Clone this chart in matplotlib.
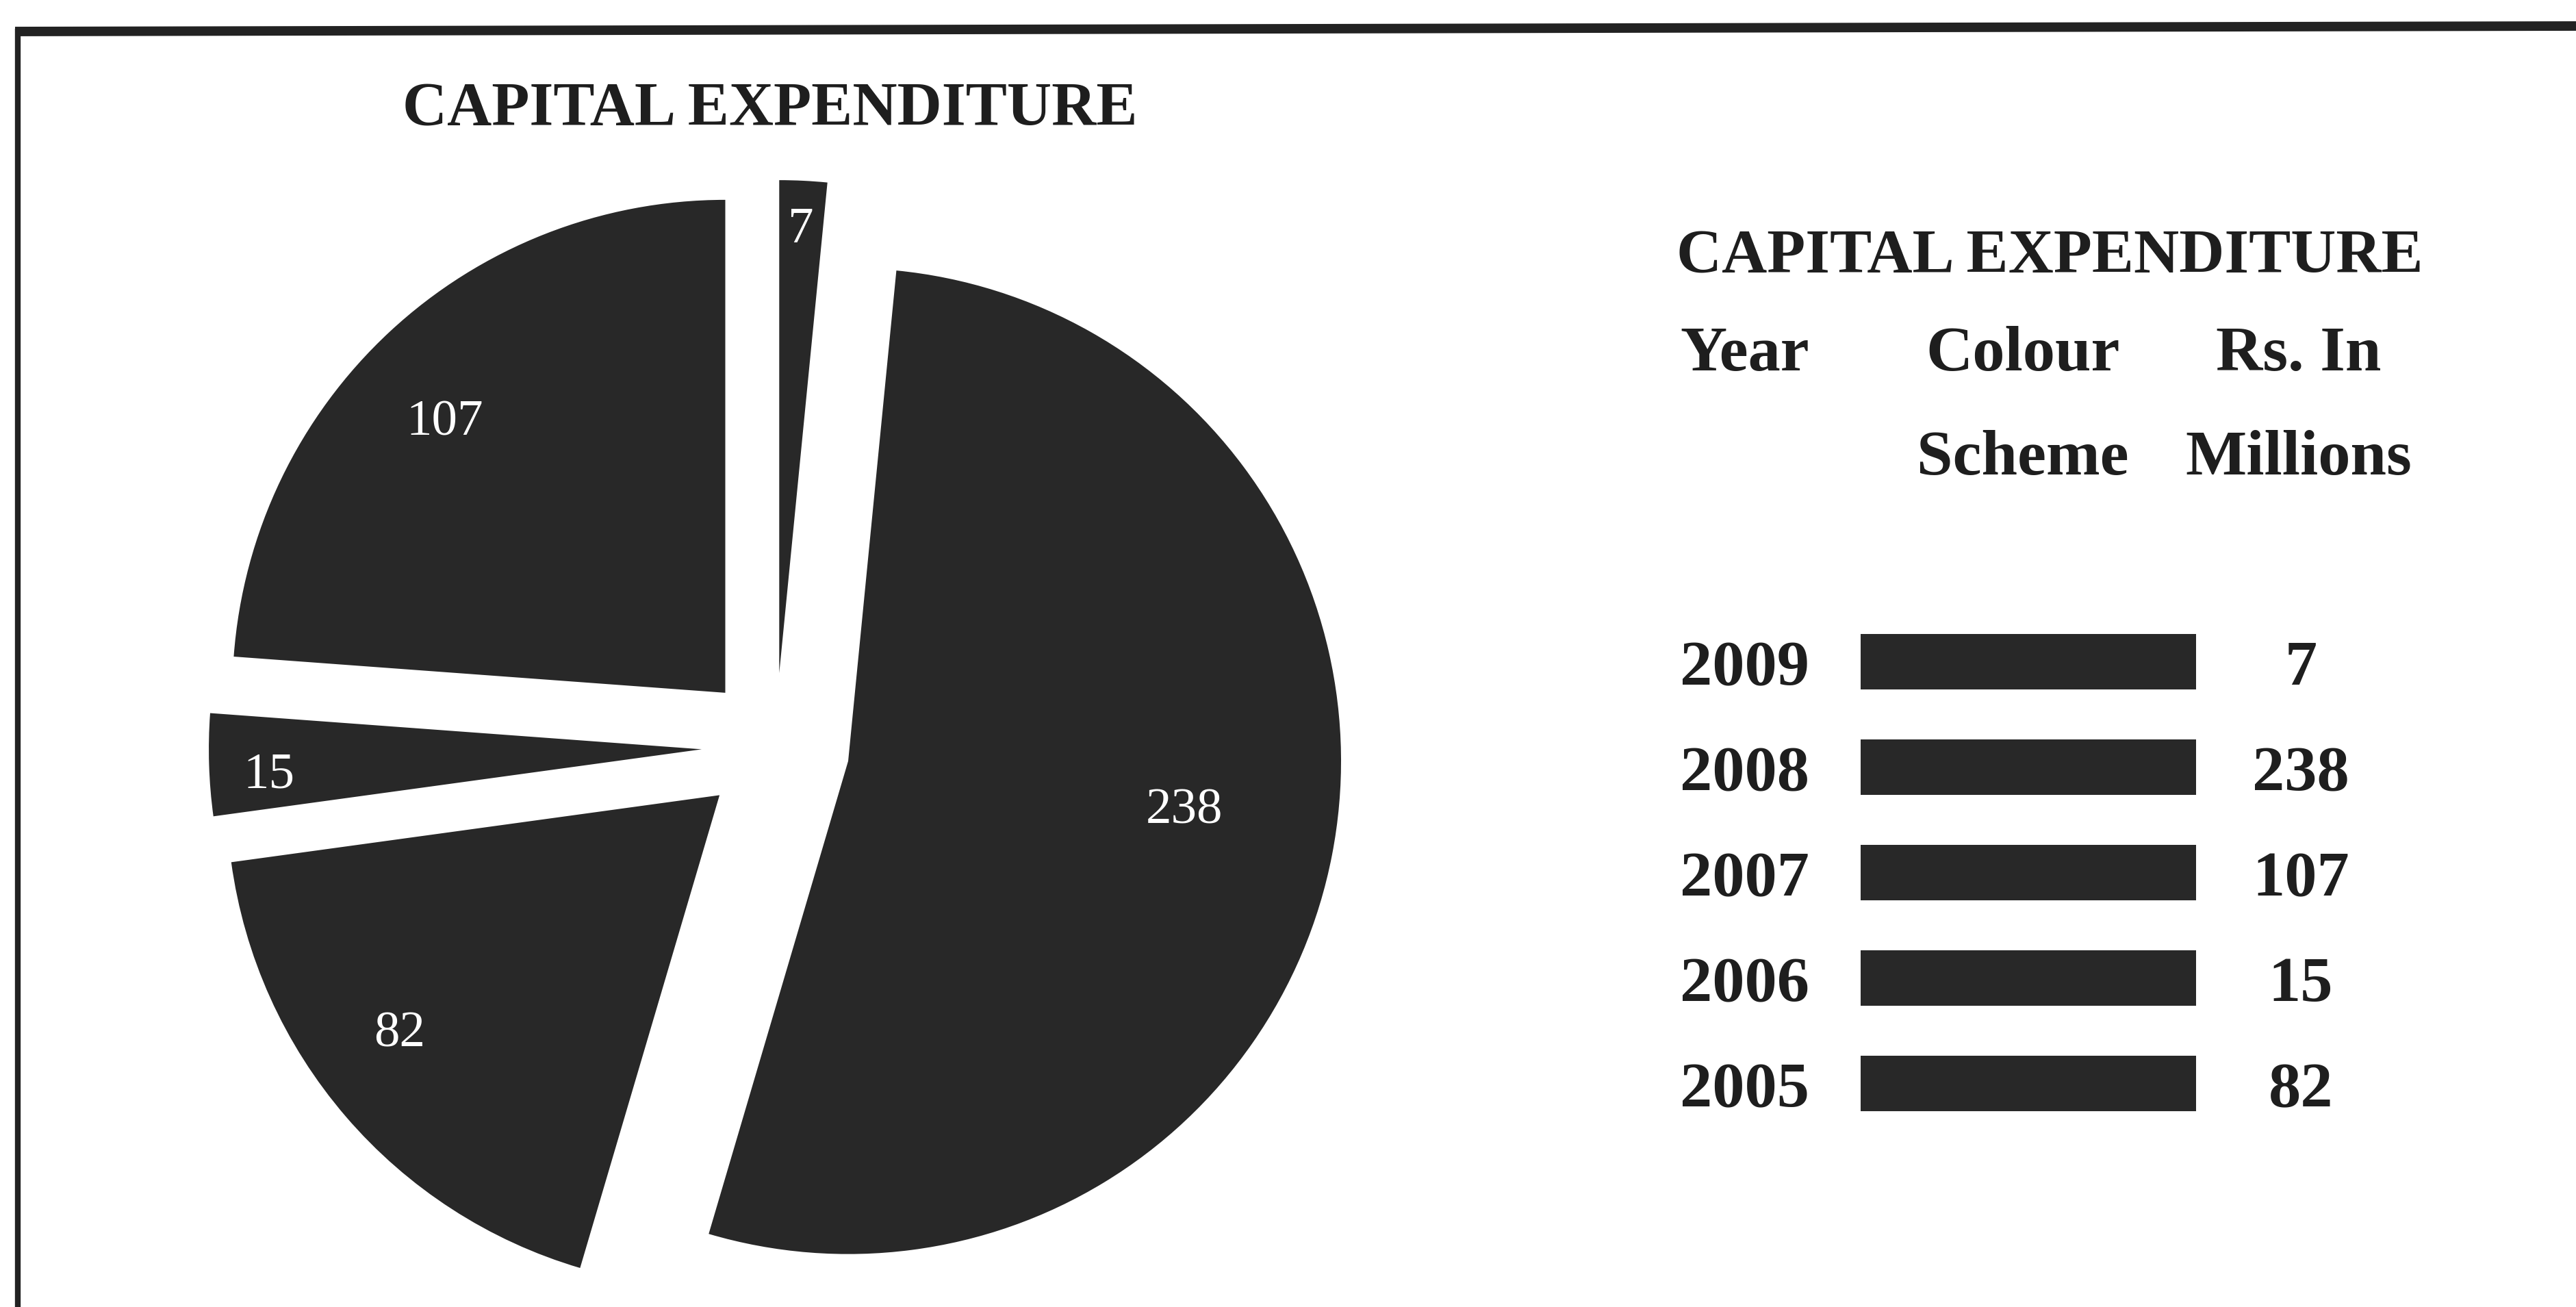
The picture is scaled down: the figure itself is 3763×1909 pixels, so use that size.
import numpy as np
import matplotlib
matplotlib.use("Agg")
import matplotlib.pyplot as plt

# data
years = ["2009", "2008", "2007", "2006", "2005"]
values = [7, 238, 107, 15, 82]
# clockwise order of the slices, starting at 12 o'clock
pie_years = ["2009", "2008", "2005", "2006", "2007"]

title = "CAPITAL EXPENDITURE"
col_heads = ["Year", "Colour", "Rs. In"]
col_heads2 = ["", "Scheme", "Millions"]

W, H = 3763, 1909
slice_color = "#282828"
serif = ["Liberation Serif", "DejaVu Serif"]

fig = plt.figure(figsize=(W / 100, H / 100), dpi=100)
fig.patch.set_facecolor("white")

# pie axes: 720 px per unit radius, centre at (1133, 1091) px
R = 720
cx, cy = 1133, 1091
L = 1.35
side = 2 * L * R
ax = fig.add_axes([(cx - side / 2) / W, (H - cy - side / 2) / H, side / W, side / H])
pie_vals = [values[years.index(y)] for y in pie_years]
wedges, _ = ax.pie(pie_vals, startangle=90, counterclock=False,
                   explode=[0.15] * len(pie_vals), colors=[slice_color] * len(pie_vals),
                   wedgeprops=dict(linewidth=0))
ax.set_xlim(-L, L)
ax.set_ylim(-L, L)
ax.axis("off")

# label placement: distance from pie centre and angle nudge (deg)
label_dist = [1.05, 0.84, 0.96, 1.03, 0.94]
label_nudge = [0, 2.1, -3.3, 1.4, 2.7]
for w, v, d, n in zip(wedges, pie_vals, label_dist, label_nudge):
    ang = np.deg2rad((w.theta1 + w.theta2) / 2 + n)
    ax.text(d * np.cos(ang), d * np.sin(ang), str(v), color="white",
            fontsize=54, family=serif, ha="center", va="center")

# overlay in pixel coordinates
ov = fig.add_axes([0, 0, 1, 1])
ov.set_xlim(0, W)
ov.set_ylim(H, 0)
ov.axis("off")

# frame lines of the scanned box
ov.plot([22, W], [46, 38], color="#222222", lw=10, solid_capstyle="butt")
ov.plot([26, 26], [42, H], color="#222222", lw=6, solid_capstyle="butt")

ov.text(588, 183, title, fontsize=65, fontweight="bold", family=serif,
        ha="left", va="baseline", color="#1e1e1e")

# legend table
ov.text(2449, 398, title, fontsize=66, fontweight="bold", family=serif,
        ha="left", va="baseline", color="#1e1e1e")
col_x = [2454, 2955, 3358]
col_ha = ["left", "center", "center"]
for x, ha, h1, h2 in zip(col_x, col_ha, col_heads, col_heads2):
    ov.text(x, 541, h1, fontsize=68, fontweight="bold", family=serif,
            ha=ha, va="baseline", color="#1e1e1e")
    if h2:
        ov.text(x, 693, h2, fontsize=68, fontweight="bold", family=serif,
                ha=ha, va="baseline", color="#1e1e1e")

row_y = 966 + 154 * np.arange(len(years))
ov.barh(row_y, 490, left=2718, height=81, color=slice_color)
for y, yr, v in zip(row_y, years, values):
    ov.text(2454, y + 34, yr, fontsize=68, fontweight="bold", family=serif,
            ha="left", va="baseline", color="#1e1e1e")
    ov.text(3361, y + 34, str(v), fontsize=68, fontweight="bold", family=serif,
            ha="center", va="baseline", color="#1e1e1e")

fig.savefig("out.png", dpi=100)
